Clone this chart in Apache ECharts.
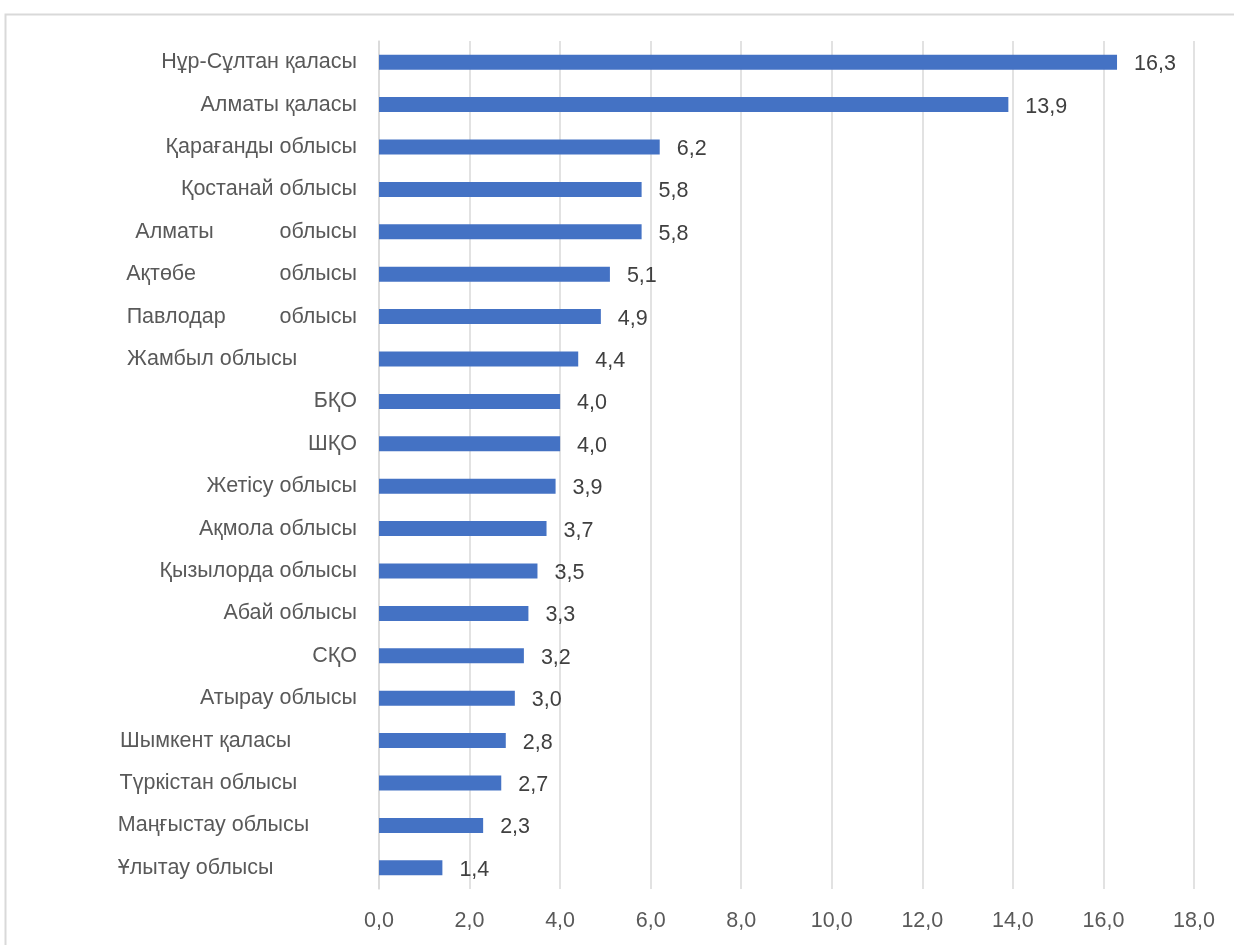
<!DOCTYPE html>
<html>
<head>
<meta charset="utf-8">
<script src="https://cdn.jsdelivr.net/npm/echarts@6/dist/echarts.min.js"></script>
<style>
html,body{margin:0;padding:0;background:#fff;}
#chart{width:1234px;height:945px;}
</style>
</head>
<body>
<div id="chart"></div>
<script>
const categories = [
  "Нұр-Сұлтан қаласы",
  "Алматы қаласы",
  "Қарағанды облысы",
  "Қостанай облысы",
  "Алматы           облысы",
  "Ақтөбе              облысы",
  "Павлодар         облысы",
  "Жамбыл облысы          ",
  "БҚО",
  "ШҚО",
  "Жетісу облысы",
  "Ақмола облысы",
  "Қызылорда облысы",
  "Абай облысы",
  "СҚО",
  "Атырау облысы",
  "Шымкент қаласы           ",
  "Түркістан облысы          ",
  "Маңғыстау облысы        ",
  "Ұлытау облысы              "
];
const values = [16.3, 13.9, 6.2, 5.8, 5.8, 5.1, 4.9, 4.4, 4.0, 4.0, 3.9, 3.7, 3.5, 3.3, 3.2, 3.0, 2.8, 2.7, 2.3, 1.4];
const axisMin = 0, axisMax = 18, axisStep = 2;

const chart = echarts.init(document.getElementById('chart'), null, {renderer:'canvas'});
const FONT = 'Liberation Sans';
chart.setOption({
  animation: false,
  backgroundColor: '#ffffff',
  graphic: [{
    type: 'rect', left: 3, top: 12,
    shape: {width: 1300, height: 1000},
    style: {fill: 'none', stroke: '#d9d9d9', lineWidth: 2},
    silent: true
  }],
  grid: {left: 379, right: 40, top: 41, bottom: 56, containLabel: false},
  xAxis: {
    type: 'value', min: axisMin, max: axisMax, interval: axisStep,
    axisLine: {show: false}, axisTick: {show: false},
    splitLine: {show: true, lineStyle: {color: '#d9d9d9', width: 1.5}},
    axisLabel: {
      color: '#595959', fontSize: 21.5, fontFamily: FONT, margin: 21,
      formatter: v => v.toFixed(1).replace('.', ',')
    }
  },
  yAxis: {
    type: 'category', data: categories, inverse: true,
    axisLine: {show: true, lineStyle: {color: '#d9d9d9', width: 1.5}},
    axisTick: {show: false},
    axisLabel: {color: '#595959', fontSize: 21.5, fontFamily: FONT, margin: 22}
  },
  series: [{
    type: 'bar', data: values, barWidth: 15,
    itemStyle: {color: '#4472c4'},
    label: {
      show: true, position: 'right', distance: 17, offset: [0, 2],
      color: '#404040', fontSize: 21.5, fontFamily: FONT,
      formatter: p => p.value.toFixed(1).replace('.', ',')
    }
  }]
});
</script>
</body>
</html>
